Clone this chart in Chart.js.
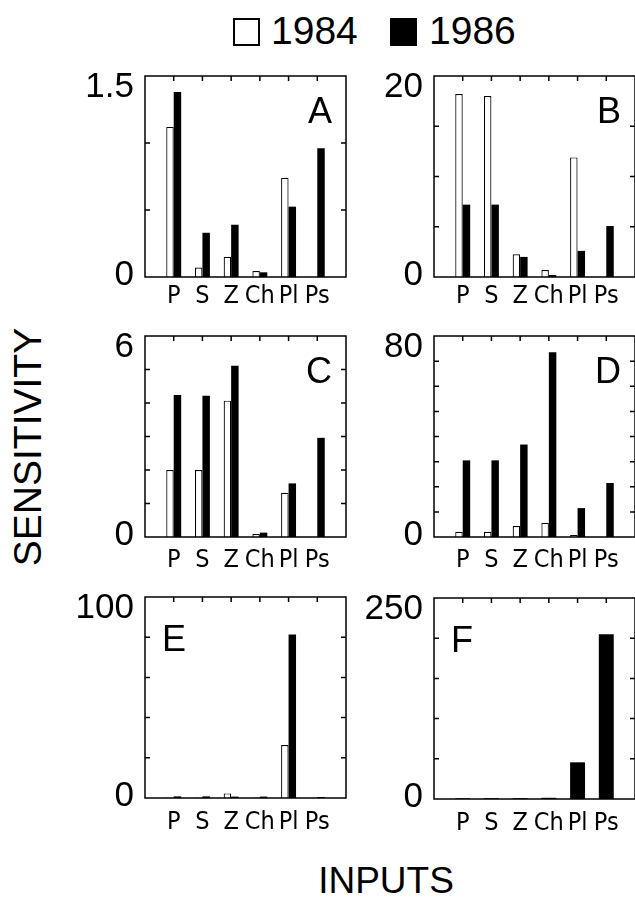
<!DOCTYPE html>
<html>
<head>
<meta charset="utf-8">
<script src="https://cdn.jsdelivr.net/npm/chart.js@4.4.1/dist/chart.umd.min.js"></script>
<style>
  html, body { margin: 0; padding: 0; background: #fff; overflow: hidden; }
  #page {
    position: relative; width: 635px; height: 899px; overflow: hidden; background: #fff;
    font-family: 'Liberation Sans', Arial, Helvetica, sans-serif; color: #000;
  }
  .panel { position: absolute; width: 300px; height: 260px; }
  .txt { position: absolute; white-space: nowrap; line-height: 1; }
  .key { position: absolute; box-sizing: border-box; border: 2px solid #000; width: 27px; height: 28px; top: 18px; }
</style>
</head>
<body>
<div id="page">
  <div class="key" style="left:233px; background:#fff"></div>
  <div class="txt" style="left:271px; top:11px; font-size:39px">1984</div>
  <div class="key" style="left:390px; background:#000"></div>
  <div class="txt" style="left:429px; top:11px; font-size:39px">1986</div>

  <div class="txt" style="left:27px; top:447px; font-size:39px; transform:translate(-50%,-50%) rotate(-90deg)">SENSITIVITY</div>
  <div class="txt" style="left:386px; top:880px; font-size:37px; transform:translate(-50%,-50%)">INPUTS</div>

  <canvas id="panelA" class="panel" width="300" height="260" style="left:55px; top:62px"></canvas>
  <canvas id="panelB" class="panel" width="300" height="260" style="left:344px; top:62px"></canvas>
  <canvas id="panelC" class="panel" width="300" height="260" style="left:55px; top:322px"></canvas>
  <canvas id="panelD" class="panel" width="300" height="260" style="left:344px; top:322px"></canvas>
  <canvas id="panelE" class="panel" width="300" height="260" style="left:55px; top:583px"></canvas>
  <canvas id="panelF" class="panel" width="300" height="260" style="left:344px; top:584px"></canvas>
</div>

<script>
// inputs on the x axis, same for every panel
const categories = ['P', 'S', 'Z', 'Ch', 'Pl', 'Ps'];
const panelLetters = ['A', 'B', 'C', 'D', 'E', 'F'];
const yMax = [1.5, 20, 6, 80, 100, 250];
const yStep = [0.5, 5, 1, 10, 20, 50];

// sensitivity values
const sens1984A = [1.12, 0.07, 0.15, 0.045, 0.74, 0];
const sens1986A = [1.38, 0.33, 0.39, 0.035, 0.525, 0.96];
const sens1984B = [18.2, 18.0, 2.26, 0.7, 11.9, 0];
const sens1986B = [7.2, 7.2, 2.0, 0.2, 2.6, 5.07];
const sens1984C = [2.0, 2.0, 4.07, 0.09, 1.32, 0];
const sens1986C = [4.24, 4.22, 5.11, 0.13, 1.6, 2.96];
const sens1984D = [2.1, 2.1, 4.4, 5.7, 0.8, 0];
const sens1986D = [30.5, 30.5, 36.8, 73.5, 11.5, 21.5];
const sens1984E = [0.3, 0.3, 2.3, 0.3, 26.4, 0];
const sens1986E = [0.8, 0.8, 0.7, 0.7, 81.4, 0.5];
const sens1984F = [0, 0, 0, 0, 0, 0];
const sens1986F = [0.8, 1.0, 1.0, 1.5, 45.6, 204.8];

const FONT = "'Liberation Sans', Arial, Helvetica, sans-serif";
const NARROW = "'Liberation Sans Narrow', 'Arial Narrow', 'DejaVu Sans Condensed', sans-serif";

// empty slots at both ends so the six inputs sit on ticks 1..6
const axisLabels = ['', ...categories, ''];
const pad = vals => [null, ...vals, null];

// box round the plot, inward tick marks, panel letter
const framePlugin = {
    id: 'frame',
    afterDraw(chart, args, opts) {
        const { ctx, chartArea: a, scales } = chart;
        ctx.save();
        ctx.strokeStyle = '#000';
        ctx.lineWidth = 1.5;
        ctx.strokeRect(a.left, a.top, a.width, a.height);
        ctx.beginPath();
        scales.y.ticks.forEach((t, i) => {
            const y = scales.y.getPixelForTick(i);
            if (y <= a.top + 1 || y >= a.bottom - 1) return;
            ctx.moveTo(a.left, y); ctx.lineTo(a.left + 5, y);
            ctx.moveTo(a.right, y); ctx.lineTo(a.right - 5, y);
        });
        scales.x.ticks.forEach((t, i) => {
            if (!t.label) return;
            const x = scales.x.getPixelForTick(i);
            ctx.moveTo(x, a.top); ctx.lineTo(x, a.top + 5);
        });
        ctx.stroke();

        ctx.fillStyle = '#000';
        ctx.font = '36px ' + FONT;
        ctx.textBaseline = 'alphabetic';
        if (opts.side === 'left') {
            ctx.textAlign = 'left';
            ctx.fillText(opts.letter, a.left + 17, a.top + 54);
        } else {
            ctx.textAlign = 'right';
            ctx.fillText(opts.letter, a.right - 14, a.top + 47);
        }
        ctx.restore();
    }
};

function makePanel(i, v84, v86, xPad, grouped) {
    const max = yMax[i];
    new Chart(document.getElementById('panel' + panelLetters[i]), {
        type: 'bar',
        data: {
            labels: axisLabels,
            datasets: [{
                label: '1984',
                data: pad(v84),
                backgroundColor: '#fff',
                borderColor: '#000',
                borderWidth: 1.2,
                grouped: grouped
            }, {
                label: '1986',
                data: pad(v86),
                backgroundColor: '#000',
                borderWidth: 0,
                grouped: grouped
            }]
        },
        options: {
            responsive: false,
            animation: false,
            layout: { padding: { top: 14, right: 9, left: 0, bottom: 0 } },
            datasets: { bar: { categoryPercentage: 0.52, barPercentage: 1 } },
            plugins: {
                legend: { display: false },
                tooltip: { enabled: false },
                frame: { letter: panelLetters[i], side: i >= 4 ? 'left' : 'right' }
            },
            scales: {
                x: {
                    offset: false,
                    grid: { display: false, drawTicks: false },
                    border: { display: false },
                    ticks: {
                        autoSkip: false,
                        maxRotation: 0,
                        padding: xPad,
                        color: '#000',
                        font: { family: NARROW, size: 25 }
                    },
                    afterFit(s) { s.height = 45; s.paddingLeft = 0; s.paddingRight = 0; }
                },
                y: {
                    min: 0,
                    max: max,
                    grid: { display: false, drawTicks: false },
                    border: { display: false },
                    ticks: {
                        stepSize: yStep[i],
                        autoSkip: false,
                        padding: 11,
                        labelOffset: -2,
                        color: '#000',
                        font: { family: FONT, size: 35, lineHeight: 0.76 },
                        // only the ends get a number; the top one sits just under the tick
                        callback: v => v === 0 ? '0' : (Math.abs(v - max) < 1e-9 ? ['', String(max)] : '')
                    },
                    afterFit(s) { s.width = 90; s.paddingTop = 0; s.paddingBottom = 0; }
                }
            }
        },
        plugins: [framePlugin]
    });
}

makePanel(0, sens1984A, sens1986A, 4, true);
makePanel(1, sens1984B, sens1986B, 4, true);
makePanel(2, sens1984C, sens1986C, 8, true);
makePanel(3, sens1984D, sens1986D, 8, true);
makePanel(4, sens1984E, sens1986E, 9, true);
makePanel(5, sens1984F, sens1986F, 9, false);
</script>
</body>
</html>
